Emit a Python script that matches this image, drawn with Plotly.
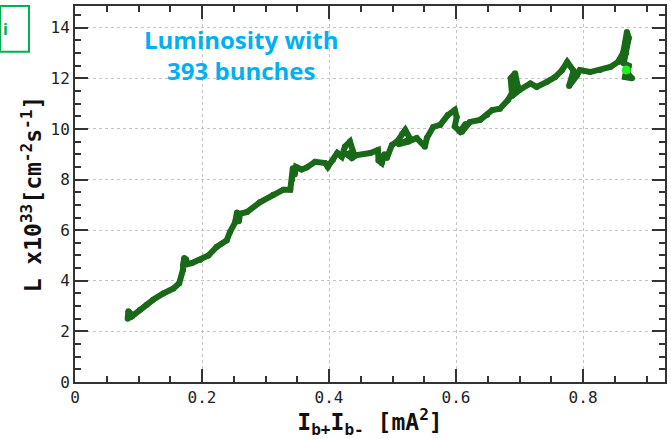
import plotly.graph_objects as go

# Path of luminosity vs bunch-current product
current_product = [
    0.084, 0.083, 0.087, 0.086, 0.090, 0.102, 0.113, 0.123, 0.139, 0.155,
    0.164, 0.170, 0.172, 0.170, 0.175, 0.176, 0.184, 0.197, 0.210, 0.223,
    0.239, 0.244, 0.252, 0.255, 0.258, 0.260, 0.271, 0.291, 0.312, 0.328,
    0.339, 0.342, 0.343, 0.346, 0.348, 0.357, 0.365, 0.378, 0.394, 0.398,
    0.406, 0.413, 0.420, 0.425, 0.433, 0.438, 0.428, 0.436, 0.444, 0.465,
    0.477, 0.478, 0.483, 0.487, 0.491, 0.499, 0.507, 0.515, 0.520, 0.528,
    0.510, 0.525, 0.538, 0.551, 0.554, 0.564, 0.575, 0.587, 0.598, 0.601,
    0.598, 0.606, 0.615, 0.609, 0.622, 0.638, 0.649, 0.657, 0.669, 0.682,
    0.688, 0.686, 0.693, 0.697, 0.688, 0.700, 0.717, 0.727, 0.743, 0.756,
    0.767, 0.775, 0.785, 0.778, 0.790, 0.795, 0.811, 0.827, 0.843, 0.855,
    0.863, 0.866, 0.869, 0.872, 0.868, 0.864, 0.872, 0.870, 0.877, 0.866,
    0.868,
]
luminosity = [
    2.80, 2.50, 2.60, 2.75, 2.60, 2.85, 3.05, 3.25, 3.50, 3.70,
    3.90, 4.43, 4.90, 4.60, 4.85, 4.65, 4.70, 4.82, 5.00, 5.34,
    5.60, 5.93, 6.30, 6.70, 6.35, 6.65, 6.72, 7.10, 7.40, 7.60,
    7.60, 8.00, 8.45, 8.20, 8.50, 8.40, 8.48, 8.70, 8.65, 8.50,
    8.77, 9.05, 8.90, 9.30, 9.50, 9.10, 9.00, 8.85, 8.97, 9.05,
    9.17, 8.75, 8.65, 9.00, 8.85, 9.37, 9.50, 9.80, 9.96, 9.60,
    9.40, 9.50, 9.64, 9.30, 9.64, 10.08, 10.16, 10.55, 10.75, 10.47,
    10.10, 9.90, 10.20, 9.88, 10.28, 10.36, 10.55, 10.75, 10.80, 11.15,
    11.42, 12.00, 12.20, 11.70, 11.30, 11.54, 11.80, 11.66, 11.86, 12.05,
    12.33, 12.65, 12.30, 11.70, 12.10, 12.33, 12.25, 12.33, 12.45, 12.65,
    13.00, 13.40, 13.83, 13.60, 13.00, 12.60, 12.50, 12.20, 12.00, 12.05,
    12.33,
]
last_point_x = [0.868]
last_point_y = [12.33]

x_ticks = [0, 0.2, 0.4, 0.6, 0.8]
x_tick_labels = ["0", "0.2", "0.4", "0.6", "0.8"]
y_ticks = [0, 2, 4, 6, 8, 10, 12, 14]
y_tick_labels = ["0", "2", "4", "6", "8", "10", "12", "14"]

fig = go.Figure()
fig.add_trace(go.Scatter(
    x=current_product, y=luminosity, mode="lines+markers",
    line=dict(color="#196919", width=6),
    marker=dict(color="#196919", size=6),
    showlegend=False,
))
fig.add_trace(go.Scatter(
    x=last_point_x, y=last_point_y, mode="markers",
    marker=dict(color="#22ee22", size=9),
    showlegend=False,
))

mono = "DejaVu Sans Mono"
axis_common = dict(
    showline=True, linecolor="#333333", linewidth=2, mirror="allticks",
    ticks="inside", ticklen=13, tickwidth=2, tickcolor="#333333",
    showgrid=True, gridcolor="#c4c4c4", griddash="dot", gridwidth=1,
    zeroline=False, automargin=False,
    tickfont=dict(family=mono, size=16, color="#222222"),
)

fig.update_xaxes(
    range=[0, 0.929], tickvals=x_ticks, ticktext=x_tick_labels,
    minor=dict(dtick=0.05, ticks="inside", ticklen=6, tickwidth=1.5,
               tickcolor="#333333", showgrid=False),
    title=dict(text="<b>I<sub>b+</sub>I<sub>b-</sub> [mA<sup>2</sup>]</b>",
               font=dict(family=mono, size=23, color="#111111"), standoff=6),
    **axis_common,
)
fig.update_yaxes(
    range=[0, 14.86], tickvals=y_ticks, ticktext=y_tick_labels,
    minor=dict(dtick=0.5, ticks="inside", ticklen=6, tickwidth=1.5,
               tickcolor="#333333", showgrid=False),
    title=dict(text="<b>L x10<sup>33</sup>[cm<sup>-2</sup>s<sup>-1</sup>]</b>",
               font=dict(family=mono, size=23, color="#111111"), standoff=2),
    **axis_common,
)

fig.add_annotation(
    x=0.281, y=0.96, xref="paper", yref="paper", showarrow=False,
    text="<b>Luminosity with<br>393 bunches</b>",
    font=dict(family="Open Sans", size=24, color="#00b0f0"),
    align="center", xanchor="center", yanchor="top",
)

fig.add_shape(
    type="rect", xref="paper", yref="paper",
    x0=-0.127, x1=-0.078, y0=0.878, y1=1.0,
    line=dict(color="#00b050", width=2), fillcolor="white",
)
fig.add_annotation(
    x=-0.125, y=0.94, xref="paper", yref="paper", showarrow=False,
    text="<b>i</b>", font=dict(family="Open Sans", size=16, color="#00b050"),
    xanchor="left", yanchor="middle",
)

fig.update_layout(
    width=671, height=439,
    margin=dict(l=75, r=6, t=6, b=57),
    plot_bgcolor="white", paper_bgcolor="white",
)

fig.write_html(
    "out.html",
    config={"displayModeBar": False},
    post_script="document.body.style.margin='0';document.body.style.overflow='hidden';",
)
